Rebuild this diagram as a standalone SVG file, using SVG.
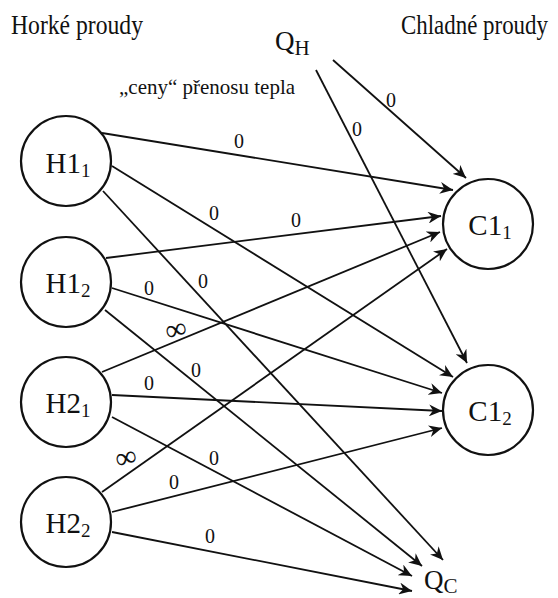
<svg xmlns="http://www.w3.org/2000/svg" width="558" height="598" viewBox="0 0 558 598" font-family="Liberation Serif, DejaVu Serif, serif">
<style>
text{font-family:"Liberation Serif","DejaVu Serif",serif;fill:#111}
.node circle{fill:#fff;stroke:#111;stroke-width:2.2}
.nl{font-size:29px;text-anchor:middle}
.sub{font-size:19px}
.e line{stroke:#111;stroke-width:1.8;marker-end:url(#ah)}
.w{font-size:20px;text-anchor:middle}
.inf{font-size:30px;text-anchor:middle}
.hd{font-size:27px}
</style>
<defs>
<marker id="ah" markerWidth="14" markerHeight="12" refX="13" refY="6" orient="auto" markerUnits="userSpaceOnUse">
<path d="M0,0 L13,6 L0,12 L4,6 z" fill="#111"/>
</marker>
</defs>
<rect width="558" height="598" fill="#fff"/>
<text class="hd" transform="translate(11,34) scale(0.876,1)">Horké proudy</text>
<text class="hd" transform="translate(401,34) scale(0.849,1)">Chladné proudy</text>
<text x="119" y="94" font-size="21">„ceny“ přenosu tepla</text>
<g id="edges" class="e">
<line x1="333" y1="60" x2="466" y2="178"/>
<line x1="316" y1="70" x2="467" y2="363"/>
<line x1="102" y1="133" x2="453" y2="190"/>
<line x1="112" y1="166" x2="453" y2="377"/>
<line x1="103" y1="191" x2="443" y2="560"/>
<line x1="106" y1="258" x2="441" y2="216"/>
<line x1="112" y1="288" x2="442" y2="393"/>
<line x1="105" y1="310" x2="422" y2="566"/>
<line x1="102" y1="372" x2="440" y2="232"/>
<line x1="112" y1="395" x2="442" y2="411"/>
<line x1="112" y1="417" x2="412" y2="576"/>
<line x1="102" y1="492" x2="447" y2="249"/>
<line x1="112" y1="512" x2="442" y2="428"/>
<line x1="112" y1="532" x2="412" y2="591"/>
</g>
<g id="labels">
<text class="w" x="391" y="107">0</text>
<text class="w" x="357" y="136">0</text>
<text class="w" x="239" y="148">0</text>
<text class="w" x="214" y="220">0</text>
<text class="w" x="203" y="288">0</text>
<text class="w" x="296" y="227">0</text>
<text class="w" x="149" y="295">0</text>
<text class="w" x="196" y="377">0</text>
<text class="w" x="149" y="390">0</text>
<text class="w" x="214" y="465">0</text>
<text class="w" x="174" y="489">0</text>
<text class="w" x="210" y="543">0</text>
<text class="inf" x="176" y="339" transform="rotate(-15 176 330)">∞</text>
<text class="inf" x="126" y="467" transform="rotate(-15 126 458)">∞</text>
</g>
<g id="QH"><text x="275" y="50" font-size="27">Q<tspan font-size="21" dy="5">H</tspan></text></g>
<g id="QC"><text x="424" y="589" font-size="27">Q<tspan font-size="21" dy="4">C</tspan></text></g>
<g id="H1_1" class="node"><circle cx="66" cy="161" r="45"/><text class="nl" x="68" y="173">H1<tspan class="sub" dy="4">1</tspan></text></g>
<g id="H1_2" class="node"><circle cx="66" cy="282" r="45"/><text class="nl" x="68" y="293">H1<tspan class="sub" dy="4">2</tspan></text></g>
<g id="H2_1" class="node"><circle cx="66" cy="402" r="45"/><text class="nl" x="68" y="413">H2<tspan class="sub" dy="4">1</tspan></text></g>
<g id="H2_2" class="node"><circle cx="66" cy="522" r="45"/><text class="nl" x="68" y="533">H2<tspan class="sub" dy="4">2</tspan></text></g>
<g id="C1_1" class="node"><circle cx="488" cy="224" r="45"/><text class="nl" x="490" y="235">C1<tspan class="sub" dy="4">1</tspan></text></g>
<g id="C1_2" class="node"><circle cx="488" cy="410" r="45"/><text class="nl" x="490" y="421">C1<tspan class="sub" dy="4">2</tspan></text></g>
</svg>
